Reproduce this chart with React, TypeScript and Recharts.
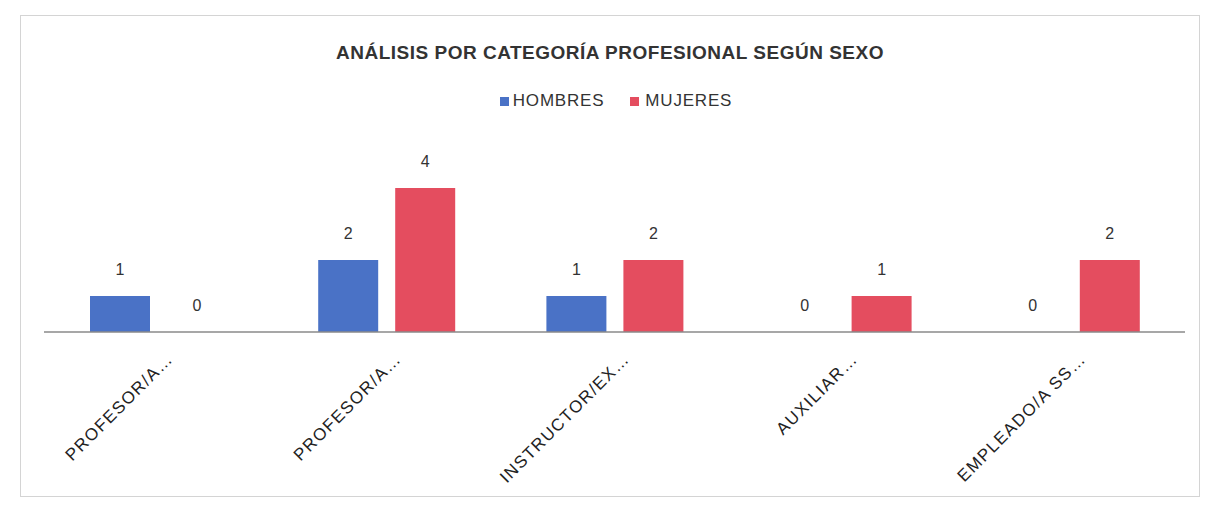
import React from "react";
import { BarChart, Bar, XAxis, YAxis, LabelList } from "recharts";

const categories = [
  "PROFESOR/A…",
  "PROFESOR/A…",
  "INSTRUCTOR/EX…",
  "AUXILIAR…",
  "EMPLEADO/A SS…",
];
const hombres = [1, 2, 1, 0, 0];
const mujeres = [0, 4, 2, 1, 2];

const data = categories.map((name, i) => ({
  name,
  hombres: hombres[i],
  mujeres: mujeres[i],
}));

const BLUE = "#4a72c6";
const RED = "#e44d5f";
const FONT = "'Liberation Sans', Arial, sans-serif";

const SlantTick = (props: any) => {
  const { x, y, payload } = props;
  return (
    <g transform={`translate(${x + 16},${y + 20})`}>
      <text
        transform="rotate(-45)"
        textAnchor="end"
        fontSize={17}
        letterSpacing={1.4}
        fontFamily={FONT}
        fill="#222"
      >
        {payload.value}
      </text>
    </g>
  );
};

// draws the value above the bar, zero values included
const ValueLabel = (props: any) => {
  const { x, y, width, value } = props;
  return (
    <text
      x={Number(x) + Number(width) / 2}
      y={Number(y) - 21}
      textAnchor="middle"
      fontSize={16}
      fontFamily={FONT}
      fill="#333"
    >
      {value}
    </text>
  );
};

const App = () => {
  return (
    <div
      style={{
        position: "absolute",
        left: 20,
        top: 15,
        width: 1178,
        height: 480,
        border: "1px solid #d4d4d4",
        background: "#fff",
        fontFamily: FONT,
      }}
    >
      <div
        style={{
          position: "absolute",
          top: 26,
          left: 0,
          width: "100%",
          textAlign: "center",
          fontSize: 19,
          letterSpacing: 0.5,
          fontWeight: "bold",
          color: "#333",
        }}
      >
        ANÁLISIS POR CATEGORÍA PROFESIONAL SEGÚN SEXO
      </div>
      <div
        style={{
          position: "absolute",
          top: 75,
          left: 6,
          width: "100%",
          display: "flex",
          justifyContent: "center",
          gap: 26,
          fontSize: 17,
          letterSpacing: 0.8,
          color: "#333",
        }}
      >
        <span style={{ display: "flex", alignItems: "center", gap: 4 }}>
          <span style={{ width: 9, height: 9, background: BLUE }} />
          HOMBRES
        </span>
        <span style={{ display: "flex", alignItems: "center", gap: 6 }}>
          <span style={{ width: 9, height: 9, background: RED }} />
          MUJERES
        </span>
      </div>
      <BarChart
        width={1178}
        height={480}
        data={data}
        margin={{ top: 136, right: 14, bottom: 0, left: 23 }}
        barSize={60}
        barGap={17}
      >
        <XAxis
          dataKey="name"
          height={164}
          interval={0}
          tickLine={false}
          axisLine={{ stroke: "#8a8a8a", strokeWidth: 1.5 }}
          tick={<SlantTick />}
        />
        <YAxis hide domain={[0, 5]} />
        <Bar
          dataKey="hombres"
          fill={BLUE}
          minPointSize={0.01}
          isAnimationActive={false}
        >
          <LabelList dataKey="hombres" content={<ValueLabel />} />
        </Bar>
        <Bar
          dataKey="mujeres"
          fill={RED}
          minPointSize={0.01}
          isAnimationActive={false}
        >
          <LabelList dataKey="mujeres" content={<ValueLabel />} />
        </Bar>
      </BarChart>
    </div>
  );
};

export default App;
